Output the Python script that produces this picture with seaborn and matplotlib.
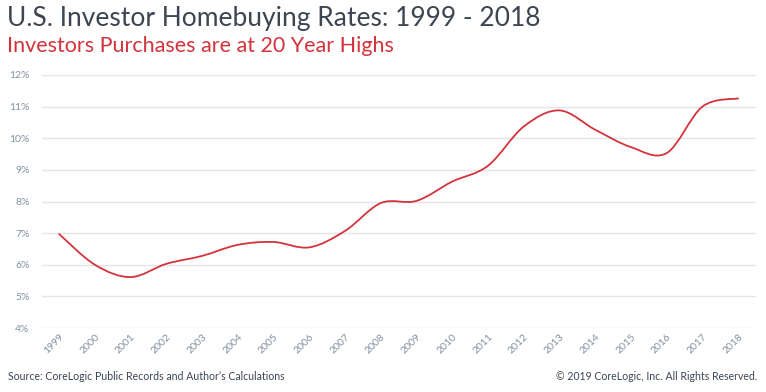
import matplotlib
matplotlib.use('Agg')
import matplotlib.pyplot as plt
from matplotlib.path import Path
from matplotlib.patches import PathPatch
from matplotlib.ticker import FuncFormatter
import seaborn as sns

# Investor share of home purchases
years = [1999, 2000, 2001, 2002, 2003, 2004, 2005, 2006, 2007, 2008,
         2009, 2010, 2011, 2012, 2013, 2014, 2015, 2016, 2017, 2018]
rates = [6.97, 6.00, 5.61, 6.03, 6.28, 6.63, 6.72, 6.55, 7.07, 7.95,
         8.02, 8.63, 9.13, 10.37, 10.88, 10.27, 9.72, 9.53, 11.00, 11.26]
y_ticks = [4, 5, 6, 7, 8, 9, 10, 11, 12]

title = 'U.S. Investor Homebuying Rates: 1999 - 2018'
subtitle = 'Investors Purchases are at 20 Year Highs'
source = 'Source: CoreLogic Public Records and Author\u2019s Calculations'
copyright_note = '\u00a9 2019 CoreLogic, Inc. All Rights Reserved.'

red = '#d3343c'
dark = '#3b4652'
tick_grey = '#8190a0'

sns.set_theme(style='white')
plt.rcParams['font.family'] = ['Lato', 'DejaVu Sans']

fig = plt.figure(figsize=(7.66, 3.92), dpi=100)
ax = fig.add_axes([42 / 766, 1 - 328 / 392, 714 / 766, 253 / 392])

# seaborn line for the data; the smooth curve is drawn on top as a bezier path
sns.lineplot(x=years, y=rates, ax=ax, color=red, linewidth=0)


# smoothed line like the office chart (catmull-rom -> cubic bezier)
def smooth_path(xs, ys):
    pts = list(zip(xs, ys))
    verts = [pts[0]]
    codes = [Path.MOVETO]
    n = len(pts)
    for i in range(n - 1):
        p0 = pts[max(i - 1, 0)]
        p1 = pts[i]
        p2 = pts[i + 1]
        p3 = pts[min(i + 2, n - 1)]
        c1 = (p1[0] + (p2[0] - p0[0]) / 6, p1[1] + (p2[1] - p0[1]) / 6)
        c2 = (p2[0] - (p3[0] - p1[0]) / 6, p2[1] - (p3[1] - p1[1]) / 6)
        verts += [c1, c2, p2]
        codes += [Path.CURVE4] * 3
    return Path(verts, codes)


ax.add_patch(PathPatch(smooth_path(years, rates), facecolor='none',
                       edgecolor=red, linewidth=1.3, capstyle='round'))

ax.set_xlim(years[0] - 0.48, years[-1] + 0.5)
ax.set_ylim(y_ticks[0], y_ticks[-1])
ax.set_yticks(y_ticks)
ax.yaxis.set_major_formatter(FuncFormatter(lambda v, p: f'{v:.0f}%'))
ax.set_xticks(years)
ax.set_xticklabels([str(y) for y in years], rotation=45, ha='right',
                   rotation_mode='anchor')
ax.tick_params(axis='both', labelsize=7.5, colors=tick_grey, length=0)
ax.tick_params(axis='y', pad=9)
ax.tick_params(axis='x', pad=3)
ax.grid(axis='y', color='#e3e5e8', linewidth=1)
ax.set_axisbelow(True)
sns.despine(ax=ax, left=True, bottom=True)
ax.set_xlabel('')
ax.set_ylabel('')

fig.text(7 / 766, 1 - 6 / 392, title, fontsize=19, color=dark, va='top')
fig.text(7 / 766, 1 - 36 / 392, subtitle, fontsize=15.5, color=red, va='top')
fig.text(8 / 766, 1 - 377 / 392, source, fontsize=7.6, color=dark, va='center')
fig.text(757 / 766, 1 - 377 / 392, copyright_note, fontsize=7.6, color=dark,
         va='center', ha='right')

fig.savefig('out.png', dpi=100)
